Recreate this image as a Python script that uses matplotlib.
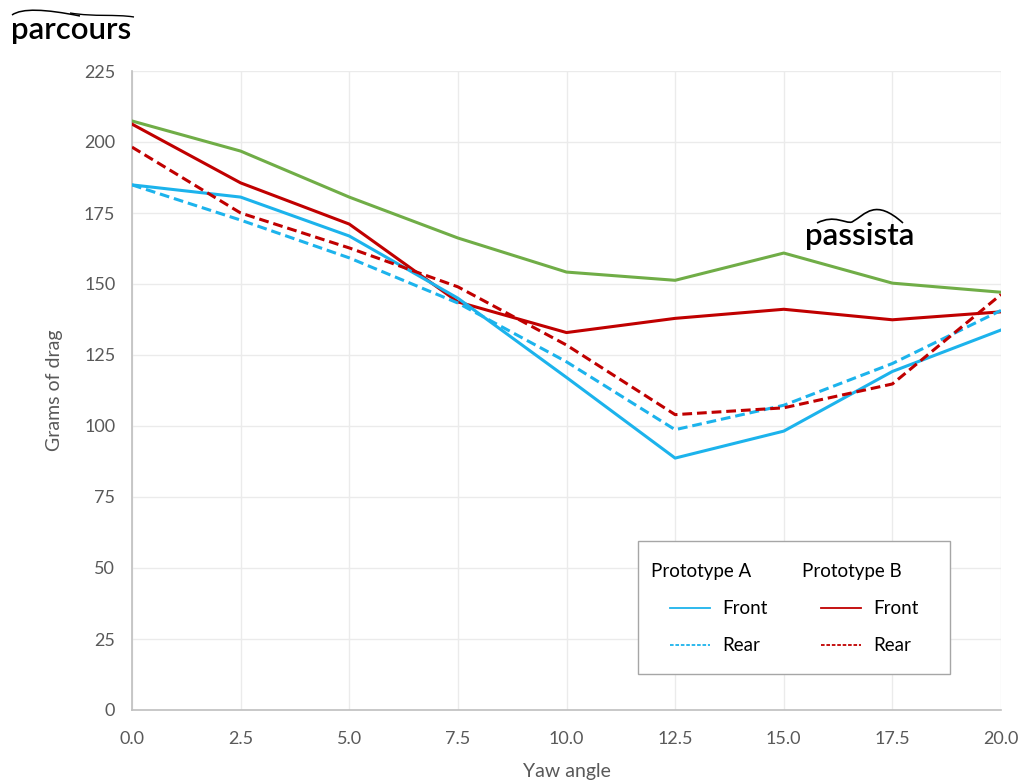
import numpy as np
import matplotlib
matplotlib.use("Agg")
from matplotlib import pyplot as plt
from matplotlib.lines import Line2D
from matplotlib.path import Path
from matplotlib.patches import PathPatch
from matplotlib.offsetbox import AnchoredOffsetbox, VPacker, HPacker, TextArea, DrawingArea

plt.rcParams['font.family'] = ['Lato', 'DejaVu Sans']

# data
yaw = [0.0, 2.5, 5.0, 7.5, 10.0, 12.5, 15.0, 17.5, 20.0]
passista = [207.4, 196.8, 180.6, 166.2, 154.2, 151.3, 160.9, 150.3, 147.1]
proto_b_front = [206.3, 185.6, 171.1, 143.7, 132.9, 137.9, 141.1, 137.4, 140.2]
proto_b_rear = [198.2, 175.0, 162.7, 149.0, 128.5, 104.0, 106.4, 114.8, 146.3]
proto_a_front = [184.9, 180.6, 166.9, 145.0, 117.1, 88.7, 98.2, 119.2, 133.8]
proto_a_rear = [184.9, 172.5, 159.2, 143.3, 122.6, 98.7, 107.3, 122.0, 140.7]
yticks = list(range(0, 226, 25))

green = '#70ad47'
red = '#c00000'
blue = '#1cb3ec'
grey_txt = '#595959'

W, H = 1022, 783
fig = plt.figure(figsize=(W / 100, H / 100), dpi=100)
ax = fig.add_axes([132 / W, 1 - 710 / H, (1001 - 132) / W, (710 - 71) / H])

lw = 2.2
dash = (0, (3.2, 1.6))
ax.plot(yaw, passista, color=green, lw=lw, zorder=3)
ax.plot(yaw, proto_b_front, color=red, lw=lw, zorder=3)
ax.plot(yaw, proto_a_front, color=blue, lw=lw, zorder=3)
ax.plot(yaw, proto_a_rear, color=blue, lw=lw, ls=dash, zorder=3)
ax.plot(yaw, proto_b_rear, color=red, lw=lw, ls=dash, zorder=3)

ax.set_xlim(0, 20)
ax.set_ylim(0, 225)
ax.set_xticks(yaw)
ax.set_xticklabels([f'{v:.1f}' for v in yaw])
ax.set_yticks(yticks)
ax.grid(True, color='#ebebeb', lw=1)
ax.set_axisbelow(True)
for s in ['top', 'right']:
    ax.spines[s].set_visible(False)
for s in ['left', 'bottom']:
    ax.spines[s].set_color('#bfbfbf')
    ax.spines[s].set_linewidth(1.2)
ax.tick_params(length=0, labelsize=13, labelcolor=grey_txt)
ax.tick_params(axis='x', pad=15)
ax.tick_params(axis='y', pad=12)
ax.set_xlabel('Yaw angle', fontsize=14, color=grey_txt)
ax.set_ylabel('Grams of drag', fontsize=14, color=grey_txt)
ax.xaxis.set_label_coords((567 - 132) / 869, (710 - 763) / 639)
ax.yaxis.set_label_coords((63 - 132) / 869, 0.5)


# legend box with two titled columns
fs_leg = 13.5


def entry(color, ls, label):
    da = DrawingArea(42.5, 12, 0, 0)
    da.add_artist(Line2D([13.7, 42.5], [6, 6], color=color, lw=1.3, ls=ls))
    return HPacker(children=[da, TextArea(label, textprops=dict(fontsize=fs_leg))],
                   align='center', pad=0, sep=8.6)


def column(title, color):
    return VPacker(children=[TextArea(title, textprops=dict(fontsize=fs_leg)),
                             entry(color, '-', 'Front'),
                             entry(color, (0, (2, 1)), 'Rear')],
                   align='left', pad=0, sep=14.3)


cols = HPacker(children=[column('Prototype A', blue), column('Prototype B', red)],
               align='top', pad=0, sep=25)
row = HPacker(children=[cols, DrawingArea(13, 1, 0, 0)], align='top', pad=0, sep=0)
box = VPacker(children=[DrawingArea(1, 6.5, 0, 0), row, DrawingArea(1, 5, 0, 0)],
              align='left', pad=9.4, sep=0)
anch = AnchoredOffsetbox(loc='upper left', child=box, pad=0, borderpad=0, frameon=True,
                         bbox_to_anchor=((638 - 132) / 869, (710 - 541) / 639),
                         bbox_transform=ax.transAxes)
anch.patch.set_edgecolor('#a6a6a6')
anch.patch.set_linewidth(1.0)
anch.patch.set_boxstyle('square', pad=0)
ax.add_artist(anch)


# logos
def px(x, y):
    return (x / W, 1 - y / H)


def swoosh(points, lw_):
    verts = [px(*p) for p in points]
    codes = [Path.MOVETO] + [Path.CURVE4] * (len(verts) - 1)
    fig.add_artist(PathPatch(Path(verts, codes), transform=fig.transFigure,
                             fill=False, color='black', lw=lw_))


fig.text(*px(11, 39), 'parcours', fontsize=22.5, fontweight='semibold', color='black',
         ha='left', va='baseline')
swoosh([(12, 15), (22, 8), (45, 9), (80, 16)], 1.1)
swoosh([(70, 13), (95, 17), (115, 14), (134, 17)], 1.0)

fig.text(*px(805, 245), 'passista', fontsize=22.5, fontweight='semibold', color='black',
         ha='left', va='baseline', zorder=5)
swoosh([(817, 223), (835, 214), (845, 224), (852, 222), (866, 214), (875, 198), (903, 223)], 1.2)

fig.savefig('out.png', dpi=100)
